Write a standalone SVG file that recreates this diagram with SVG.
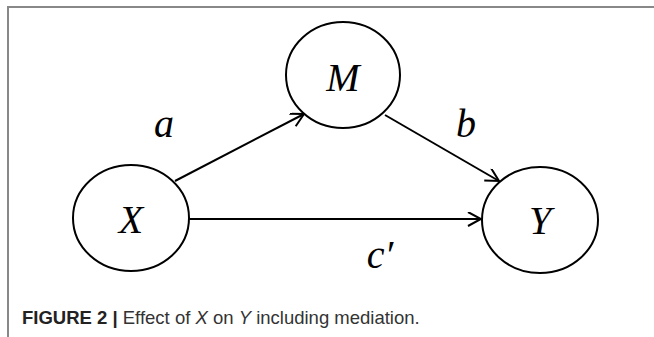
<svg xmlns="http://www.w3.org/2000/svg" width="654" height="337" viewBox="0 0 654 337">
<defs>
<style>
.node{fill:#fff;stroke:#000;stroke-width:2}
.lbl{font-family:"Liberation Serif",serif;font-style:italic;font-size:40px;fill:#000;text-anchor:middle}
.edge{stroke:#000;stroke-width:2;fill:none;marker-end:url(#arr)}
.elbl{font-family:"Liberation Serif",serif;font-style:italic;font-size:40px;fill:#000;text-anchor:middle}
.cap{font-family:"Liberation Sans",Arial,sans-serif;font-size:18.5px;fill:#333}
</style>
<marker id="arr" markerWidth="16" markerHeight="16" refX="14" refY="7" orient="auto" markerUnits="userSpaceOnUse">
<path d="M1,0 L14,7 L1,14" fill="none" stroke="#000" stroke-width="2"/>
</marker>
</defs>
<rect width="654" height="337" fill="#fff"/>
<path d="M8,337 V7 H654" fill="none" stroke="#888" stroke-width="2"/>
<g id="connectors">
<line class="edge" x1="175" y1="181" x2="304" y2="114"/>
<line class="edge" x1="385" y1="115" x2="499" y2="181"/>
<line class="edge" x1="189" y1="219" x2="481" y2="219"/>
<text class="elbl" x="164" y="137">a</text>
<text class="elbl" x="466" y="137">b</text>
<text class="elbl" x="380" y="268">c′</text>
</g>
<g id="node-M">
<ellipse class="node" cx="343" cy="75" rx="57" ry="53"/>
<text class="lbl" x="343" y="91">M</text>
</g>
<g id="node-X">
<ellipse class="node" cx="131" cy="218" rx="58" ry="53"/>
<text class="lbl" x="131" y="233">X</text>
</g>
<g id="node-Y">
<ellipse class="node" cx="540" cy="220" rx="58" ry="53"/>
<text class="lbl" x="540" y="234">Y</text>
</g>
<text class="cap" x="22" y="324"><tspan font-weight="bold" fill="#222">FIGURE 2 |</tspan> Effect of <tspan font-style="italic">X</tspan> on <tspan font-style="italic">Y</tspan> including mediation.</text>
</svg>
